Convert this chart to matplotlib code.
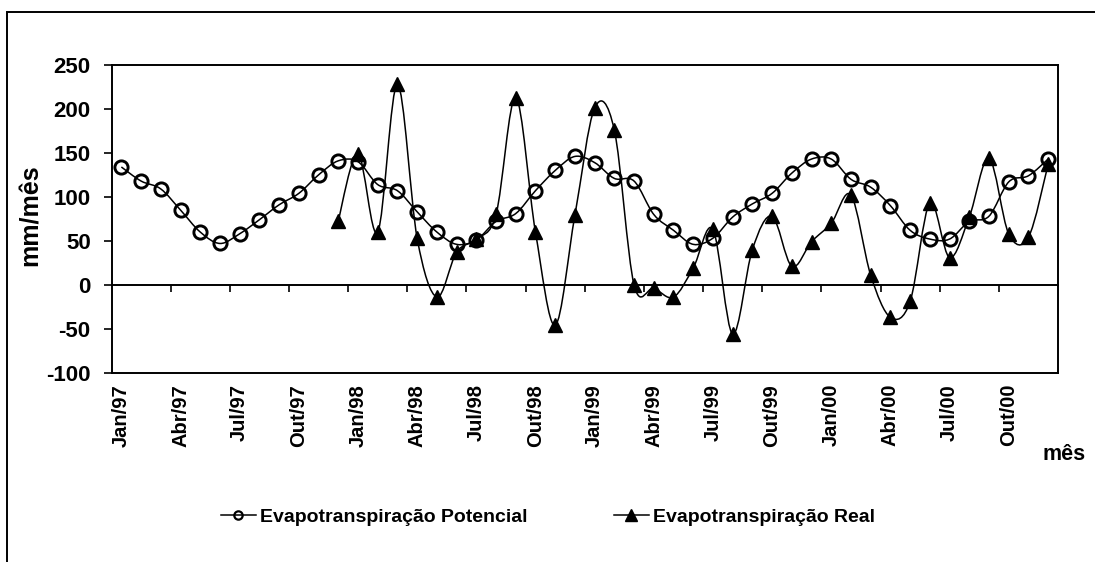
import numpy as np
import matplotlib
matplotlib.use("Agg")
import matplotlib.pyplot as plt
from matplotlib.path import Path
from matplotlib.patches import PathPatch, Rectangle
from matplotlib.lines import Line2D

# Monthly series, Jan/1997 .. Dez/2000
month_names = ["Jan", "Fev", "Mar", "Abr", "Mai", "Jun",
               "Jul", "Ago", "Set", "Out", "Nov", "Dez"]
years = ["97", "98", "99", "00"]
months = [f"{m}/{y}" for y in years for m in month_names]

# Evapotranspiração potencial (mm/mês)
etp = [134, 118, 109, 85, 60, 47, 58, 74, 91, 104, 125, 141,
       140, 114, 107, 83, 60, 46, 51, 72, 81, 107, 130, 146,
       139, 121, 118, 80, 62, 46, 53, 77, 92, 104, 127, 143,
       143, 120, 111, 90, 62, 52, 52, 72, 78, 117, 124, 143]

# Evapotranspiração real (mm/mês), available from Dez/97
etr = [None] * 11 + [73,
       149, 60, 228, 53, -14, 37, 52, 80, 213, 60, -46, 79,
       201, 176, 0, -4, -14, 19, 63, -56, 40, 78, 21, 49,
       70, 102, 11, -37, -19, 93, 31, 77, 144, 58, 54, 137]

yticks = [-100, -50, 0, 50, 100, 150, 200, 250]
legend_labels = ["Evapotranspiração Potencial", "Evapotranspiração Real"]

plt.rcParams["font.family"] = ["Liberation Sans", "DejaVu Sans"]
plt.rcParams["font.weight"] = "bold"

W, H = 1095, 562
fig = plt.figure(figsize=(W / 100, H / 100), dpi=100)
ax = fig.add_axes([111.5 / W, 1 - 372.7 / H, (1058 - 111.5) / W, (372.7 - 65) / H])


def smooth_path(xs, ys):
    """Smoothed polyline through the points (cubic Bezier, Catmull-Rom tangents)."""
    pts = np.column_stack([xs, ys]).astype(float)
    n = len(pts)
    verts = [pts[0]]
    codes = [Path.MOVETO]
    for i in range(n - 1):
        p0 = pts[i - 1] if i > 0 else pts[i]
        p1 = pts[i]
        p2 = pts[i + 1]
        p3 = pts[i + 2] if i + 2 < n else pts[i + 1]
        verts += [p1 + (p2 - p0) / 6.0, p2 - (p3 - p1) / 6.0, p2]
        codes += [Path.CURVE4] * 3
    return Path(verts, codes)


x = np.arange(len(months))

# potential evapotranspiration
ax.add_patch(PathPatch(smooth_path(x, etp), facecolor="none", edgecolor="black", lw=1.1, zorder=3))
ax.plot(x, etp, linestyle="none", marker="o", ms=9.5, mfc="none", mec="black", mew=2.1, zorder=4)

# real evapotranspiration
xr = np.array([i for i, v in enumerate(etr) if v is not None])
yr = np.array([v for v in etr if v is not None])
ax.add_patch(PathPatch(smooth_path(xr, yr), facecolor="none", edgecolor="black", lw=1.1, zorder=3))
ax.plot(xr, yr, linestyle="none", marker="^", ms=10.5, mfc="black", mec="black", zorder=5)

ax.set_xlim(-0.5, len(months) - 0.5)
ax.set_ylim(-100, 250)

# value axis
ax.set_yticks(yticks)
ax.set_yticklabels([str(v) for v in yticks])
ax.tick_params(axis="y", direction="out", length=6, width=1.2, pad=9, labelsize=16)

# category axis crossing at zero, tick marks every three months
for s in ["left", "right", "top", "bottom"]:
    ax.spines[s].set_linewidth(1.4)
ax.spines["bottom"].set_position(("data", 0))
ax.set_xticks(np.arange(2.5, len(months) - 1, 3))
ax.set_xticklabels([])
ax.tick_params(axis="x", direction="out", length=5, width=1.2)

# month labels along the bottom of the plot
sec = ax.secondary_xaxis("bottom")
sec.set_xticks(x[::3])
sec.set_xticklabels(months[::3], rotation=90, fontsize=14.5, fontweight="bold")
sec.tick_params(axis="x", length=0, pad=8)
sec.spines["bottom"].set_linewidth(1.4)

fig.text(31 / W, 1 - 215 / H, "mm/mês", rotation=90, ha="center", va="center",
         fontsize=18, fontweight="bold")
fig.text(1064 / W, 1 - 455 / H, "mês", ha="center", va="center",
         fontsize=15.5, fontweight="bold")

# legend
handles = [
    Line2D([], [], color="black", lw=1.1, marker="o", ms=6, mfc="none", mec="black", mew=1.6),
    Line2D([], [], color="black", lw=1.1, marker="^", ms=8, mfc="black", mec="black"),
]
fig.legend(handles, legend_labels, loc="center", bbox_to_anchor=(548 / W, 1 - 517 / H),
           ncol=2, frameon=False, handlelength=1.8, handletextpad=0.25, columnspacing=4.4,
           prop={"family": ["Liberation Sans", "DejaVu Sans"], "weight": "bold", "size": 14})

# chart border
fig.patches.append(Rectangle((7 / W, -0.5), 2.0, (1 - 12.5 / H) + 0.5, transform=fig.transFigure,
                             fill=False, edgecolor="black", lw=1.4))

fig.savefig("out.png", dpi=100)
